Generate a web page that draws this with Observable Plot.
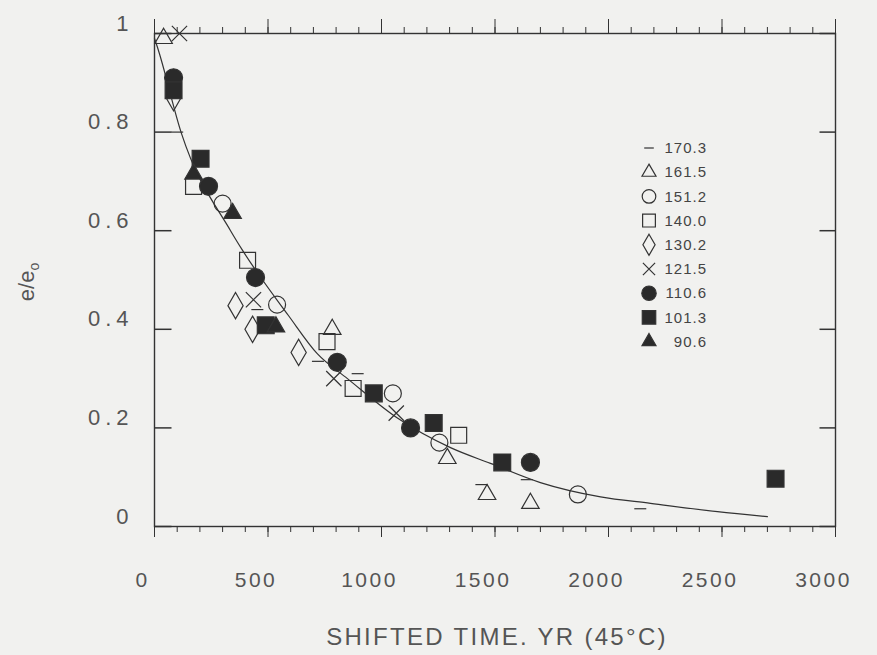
<!DOCTYPE html>
<html>
<head>
<meta charset="utf-8">
<script src="https://cdn.jsdelivr.net/npm/d3@7"></script>
<script src="https://cdn.jsdelivr.net/npm/@observablehq/plot@0.6"></script>
<style>
  html, body { margin: 0; padding: 0; background: #f1f1ef; }
  #chart svg { display: block; }
</style>
</head>
<body>
<div id="chart"></div>
<script>
// ---- Data ----
const seriesLabels = ["170.3", "161.5", "151.2", "140.0", "130.2", "121.5", "110.6", "101.3", "90.6"];

const time170_3 = [100, 453, 720, 895, 1440, 1640, 2140];
const ratio170_3 = [0.80, 0.44, 0.335, 0.31, 0.085, 0.095, 0.036];

const time161_5 = [40, 783, 1290, 1465, 1656];
const ratio161_5 = [0.99, 0.40, 0.138, 0.065, 0.047];

const time151_2 = [300, 540, 1050, 1255, 1865];
const ratio151_2 = [0.655, 0.45, 0.27, 0.17, 0.065];

const time140_0 = [172, 410, 760, 875, 1340];
const ratio140_0 = [0.69, 0.54, 0.375, 0.28, 0.185];

const time130_2 = [84, 357, 432, 635];
const ratio130_2 = [0.87, 0.448, 0.40, 0.353];

const time121_5 = [110, 436, 790, 1065];
const ratio121_5 = [1.0, 0.46, 0.30, 0.23];

const time110_6 = [84, 238, 445, 805, 1128, 1656];
const ratio110_6 = [0.91, 0.69, 0.505, 0.333, 0.20, 0.13];

const time101_3 = [84, 203, 490, 966, 1230, 1532, 2736];
const ratio101_3 = [0.885, 0.746, 0.408, 0.27, 0.21, 0.13, 0.097];

const time90_6 = [172, 344, 535];
const ratio90_6 = [0.715, 0.635, 0.405];

// fitted master curve
const fitTime = [0, 13, 119, 335, 388, 590, 718, 850, 1070, 1304, 1480, 1700, 1965, 2185, 2480, 2700];
const fitRatio = [0.99, 0.972, 0.797, 0.60, 0.56, 0.428, 0.35, 0.30, 0.22, 0.16, 0.128, 0.089, 0.06, 0.047, 0.03, 0.02];

// axes
const xTicks = [0, 500, 1000, 1500, 2000, 2500, 3000];
const xMinorTicks = [0, 100, 200, 300, 400, 500, 600, 700, 800, 900, 1000, 1100, 1200, 1300, 1400, 1500, 1600, 1700, 1800, 1900, 2000, 2100, 2200, 2300, 2400, 2500, 2600, 2700, 2800, 2900, 3000];
const yTicks = [0, 0.2, 0.4, 0.6, 0.8, 1];
const xTitle = "SHIFTED TIME. YR (45°C)";

// ---- symbols ----
const dashSymbol = {
  draw(context, size) {
    const r = Math.sqrt(size / Math.PI);
    context.moveTo(-r, 0);
    context.lineTo(r, 0);
  }
};
// inward tick shapes for the left and right spines
const tickInRight = { draw(context) { context.moveTo(0, 0); context.lineTo(17, 0); } };
const tickInLeft = { draw(context) { context.moveTo(0, 0); context.lineTo(-16, 0); } };

const ink = "#333";
const seriesStyle = [
  {symbol: dashSymbol, fill: "none", stroke: ink, r: 6},
  {symbol: "triangle", fill: "none", stroke: ink, r: 6.5},
  {symbol: "circle", fill: "none", stroke: ink, r: 8.5},
  {symbol: "square", fill: "none", stroke: ink, r: 9},
  {symbol: "diamond", fill: "none", stroke: ink, r: 8},
  {symbol: "times", fill: "none", stroke: ink, r: 7},
  {symbol: "circle", fill: "#2a2a2a", stroke: ink, r: 9},
  {symbol: "square", fill: "#2a2a2a", stroke: ink, r: 9.5},
  {symbol: "triangle", fill: "#2a2a2a", stroke: ink, r: 6.5}
];
const seriesTimes = [time170_3, time161_5, time151_2, time140_0, time130_2, time121_5, time110_6, time101_3, time90_6];
const seriesRatios = [ratio170_3, ratio161_5, ratio151_2, ratio140_0, ratio130_2, ratio121_5, ratio110_6, ratio101_3, ratio90_6];

const fitData = fitTime.map((t, i) => ({t, e: fitRatio[i]}));

const dotMarks = seriesLabels.map((lab, k) => {
  const rows = seriesTimes[k].map((t, i) => ({t, e: seriesRatios[k][i], series: lab}));
  const s = seriesStyle[k];
  return Plot.dot(rows, {x: "t", y: "e", symbol: s.symbol, r: s.r, fill: s.fill, stroke: s.stroke, strokeWidth: 1.2});
});

const fmt = d => String(d);

const chart = Plot.plot({
  width: 877,
  height: 655,
  marginLeft: 154,
  marginRight: 42,
  marginTop: 33,
  marginBottom: 129,
  style: {background: "#f1f1ef", color: "#444", fontFamily: "'Liberation Sans', Arial, sans-serif"},
  x: {domain: [0, 3000]},
  y: {domain: [0, 1]},
  marks: [
    Plot.frame({stroke: ink, strokeWidth: 1.4}),
    // bottom axis: labels + ticks
    Plot.axisX({anchor: "bottom", ticks: xTicks, tickSize: 0, tickPadding: 46, dx: -12, tickFormat: fmt, fontSize: 21, fill: "#555", label: null}),
    Plot.axisX({anchor: "bottom", ticks: xTicks, tickSize: 11, tickFormat: () => "", label: null, stroke: ink}),
    Plot.axisX({anchor: "bottom", ticks: xMinorTicks, tickSize: 6, tickFormat: () => "", label: null, stroke: ink}),
    // top axis ticks (outward)
    Plot.axisX({anchor: "top", ticks: xTicks, tickSize: 15, tickFormat: () => "", label: null, stroke: ink}),
    Plot.axisX({anchor: "top", ticks: xMinorTicks, tickSize: 7, tickFormat: () => "", label: null, stroke: ink}),
    // left axis labels
    Plot.axisY({anchor: "left", ticks: yTicks, tickSize: 0, tickPadding: 21, dy: -10, tickFormat: fmt, fontSize: 22, fill: "#555", label: null}),
    // inward ticks on left and right spines, positioned by the y scale
    Plot.dot(yTicks, {y: d => d, frameAnchor: "left", symbol: tickInRight, fill: "none", stroke: ink, strokeWidth: 1.5}),
    Plot.dot(yTicks, {y: d => d, frameAnchor: "right", symbol: tickInLeft, fill: "none", stroke: ink, strokeWidth: 1.5}),
    Plot.line(fitData, {x: "t", y: "e", curve: "monotone-x", stroke: ink, strokeWidth: 1.2}),
    ...dotMarks
  ]
});

document.getElementById("chart").appendChild(chart);

// ---- labels & legend (real text) ----
const svg = d3.select(chart);
svg.selectAll("g[aria-label='x-axis tick label'] text").style("letter-spacing", "2.5px");
svg.selectAll("g[aria-label='y-axis tick label'] text").style("letter-spacing", "5px");

// y-axis title e/e_o
const yt = svg.append("text")
  .attr("transform", "translate(34,282) rotate(-90)")
  .attr("text-anchor", "middle")
  .attr("font-size", 22)
  .attr("fill", "#555")
  .attr("font-family", "'Liberation Sans', Arial, sans-serif");
yt.append("tspan").text("e/e");
yt.append("tspan").attr("baseline-shift", "-35%").attr("font-size", 14).text("o");

// x-axis title
svg.append("text")
  .attr("x", 497).attr("y", 645)
  .attr("text-anchor", "middle")
  .attr("font-size", 24)
  .attr("fill", "#555")
  .attr("font-family", "'Liberation Sans', Arial, sans-serif")
  .style("letter-spacing", "2.3px")
  .text(xTitle);

// legend inside the plot
const leg = svg.append("g").attr("font-family", "'Liberation Sans', Arial, sans-serif");
seriesLabels.forEach((lab, k) => {
  const s = seriesStyle[k];
  const y = 148 + k * 24.2;
  const type = typeof s.symbol === "string"
    ? {circle: d3.symbolCircle, square: d3.symbolSquare, diamond: d3.symbolDiamond, triangle: d3.symbolTriangle, times: d3.symbolTimes}[s.symbol]
    : s.symbol;
  const rr = s.r * 0.8;
  leg.append("path")
    .attr("transform", `translate(649,${y})`)
    .attr("d", d3.symbol(type, Math.PI * rr * rr)())
    .attr("fill", s.fill)
    .attr("stroke", s.stroke)
    .attr("stroke-width", 1.2);
  leg.append("text")
    .attr("x", 707)
    .attr("y", y)
    .attr("dy", "0.35em")
    .attr("text-anchor", "end")
    .attr("font-size", 15)
    .attr("fill", "#444")
    .style("letter-spacing", "1px")
    .text(lab);
});
</script>
</body>
</html>
